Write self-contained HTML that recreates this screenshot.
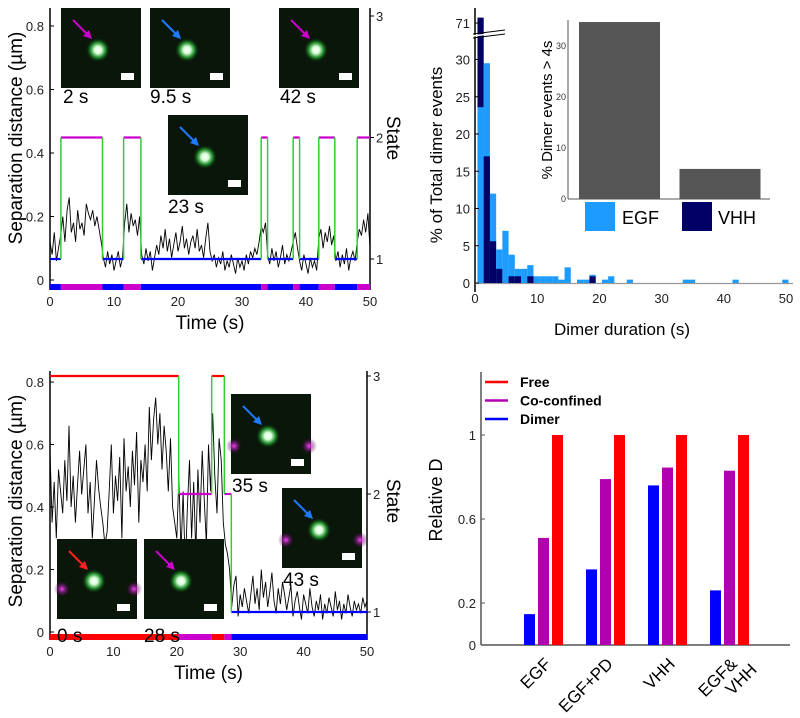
<!DOCTYPE html>
<html><head><meta charset="utf-8">
<style>
html,body{margin:0;padding:0;background:#fff;}
svg{display:block;font-family:"Liberation Sans",sans-serif;}
</style></head>
<body>
<svg id="fig" width="800" height="718" viewBox="0 0 800 718" xmlns="http://www.w3.org/2000/svg">
<defs>
<radialGradient id="spotG" cx="50%" cy="50%" r="50%">
<stop offset="0" stop-color="#ffffff"/><stop offset="0.3" stop-color="#d8ffd8"/><stop offset="0.65" stop-color="#1f9a2a" stop-opacity="0.85"/><stop offset="1" stop-color="#0b2a0d" stop-opacity="0"/>
</radialGradient>
<radialGradient id="magG" cx="50%" cy="50%" r="50%">
<stop offset="0" stop-color="#ff40ff"/><stop offset="1" stop-color="#400040" stop-opacity="0"/>
</radialGradient>
</defs>
<g id="tl"></g>
<g id="bl"></g>
<g id="tr"></g>
<g id="br"></g>
</svg>
<script>
// ---------- DATA ----------
const topTrace = [.12,.08,.15,.06,.10,
.14,.20,.12,.22,.26,.15,.18,.12,.22,.16,.18,.14,.24,.21,.19,.22,.17,.20,.16,.12,
.07,.04,.09,.05,.08,.03,.06,.09,.04,.07,
.18,.24,.15,.21,.17,.19,.14,.20,
.08,.05,.10,.06,.09,.03,.07,.11,.08,.14,.10,.16,.09,.13,.07,.11,.15,.09,.12,.17,.10,.13,.08,.12,.14,.10,.16,.09,.11,.07,.13,.18,.09,.06,.08,.04,.07,.05,.09,.03,.06,.04,.08,.05,.02,.07,.04,.06,.03,.08,.05,.09,.07,.10,.08,.12,
.17,.15,.18,
.08,.05,.10,.06,.09,.04,.07,.11,.05,.08,.06,.09,
.12,.15,.10,
.06,.03,.08,.05,.02,.07,.04,.06,.03,
.13,.16,.10,.15,.12,.17,.11,.14,
.06,.09,.04,.08,.05,.10,.03,.07,.09,.06,
.12,.16,.14,.19,.15,.21,.10];
const topStateStarts = [0,1.7,8.2,11.5,14.2,33,34,38,39,42,44.5,48];
const topStates      = [1,2,1,2,1,2,1,2,1,2,1,2];
const bottomTrace = [.58,.35,.48,.30,.52,.45,.38,.55,.42,.66,.40,.50,.35,.47,.58,.44,.52,.60,.38,.48,.30,.42,.55,.46,.40,.35,.28,.32,.45,.60,.38,.50,.42,.56,.30,.62,.45,.53,.40,.58,.47,.64,.35,.55,.48,.60,.45,.72,.55,.68,.75,.60,.70,.52,.66,.58,.45,.62,.40,.35,
.30,.50,.25,.45,.20,.40,.55,.30,.48,.25,.52,.35,.58,.42,.28,.60,.45,.70,.50,.38,.62,.55,.35,.28,.25,.20,
.08,.15,.18,.05,.12,.08,.14,.10,.06,.12,.18,.09,.14,.07,.20,.11,.16,.08,.13,.19,.10,.06,.14,.09,.16,.12,.07,.11,.15,.05,.10,.13,.08,.04,.12,.09,.06,.14,.08,.05,.10,.07,.12,.04,.09,.06,.11,.08,.05,.13,.07,.10,.04,.09,.06,.12,.08,.05,.10,.07,.09,.06,.11,.08,.10];
const bottomStateStarts = [0,20.3,25.5,27.5,28.6];
const bottomStates      = [3,2,3,2,1];
const traceXTicks = [0,10,20,30,40,50];
const traceYTicks = [0,0.2,0.4,0.6,0.8];
const stateTicks = [1,2,3];

const histEGF = [23.6,29.5,12,4.5,7,3.8,1.9,1.9,2.4,0.9,0.9,0.9,0.9,0.45,2.1,0,0.45,0.45,1.1,0,0.45,0.9,0,0,0.45,0,0,0,0,0,0,0,0,0.45,0.45,0,0,0,0,0,0,0.45,0,0,0,0,0,0,0,0.45];
const histVHH = [77,17,5.6,1.9,0,0.9,0.9,0,0.9,0,0,0,0,0,0,0,0,0,0.9,0];
const histYTicks = [0,5,10,15,20,25,30,71];
const histXTicks = [0,10,20,30,40,50];
const insetCats = ["EGF","VHH"];
const insetVals = [34.7,5.9];
const insetTicks = [0,10,20,30];

const dCats = ["EGF","EGF+PD","VHH","EGF&\nVHH"];
const dDimer = [0.147,0.36,0.76,0.26];
const dCoconf = [0.51,0.79,0.845,0.83];
const dFree = [1,1,1,1];
const dTicks = [0,0.2,0.6,1];

// ---------- HELPERS ----------
const NS="http://www.w3.org/2000/svg";
function mk(parent,tag,attrs,text){const e=document.createElementNS(NS,tag);for(const k in attrs)e.setAttribute(k,attrs[k]);if(text!==undefined)e.textContent=text;parent.appendChild(e);return e;}
const colState={1:"#0000ff",2:"#cc00cc",3:"#ff0000"};

function tracePanel(g,cfg,trace,starts,states){
  const xs=t=>cfg.x0+t*cfg.xk, ys=v=>cfg.y0-v*cfg.yk, ss=s=>cfg.s1-(s-1)*cfg.sk;
  let e;
  e=mk(g,"line",{x1:cfg.x0,y1:cfg.top,x2:cfg.x0,y2:cfg.barY+6,stroke:"#000","stroke-width":1.5});
  
  e=mk(g,"line",{x1:xs(50),y1:cfg.top,x2:xs(50),y2:cfg.barY+6,stroke:"#000","stroke-width":1.5});
  
  traceYTicks.forEach(v=>{
    mk(g,"line",{x1:cfg.x0,y1:ys(v),x2:cfg.x0+4,y2:ys(v),stroke:"#000"});
    e=mk(g,"text",{x:cfg.x0-6,y:ys(v)+5,"text-anchor":"end","font-size":13,fill:"#222"},v===0?"0":v.toFixed(1));
    
  });
  stateTicks.forEach(s=>{
    mk(g,"line",{x1:xs(50),y1:ss(s),x2:xs(50)+4,y2:ss(s),stroke:"#000"});
    e=mk(g,"text",{x:xs(50)+6,y:ss(s)+5,"font-size":13,fill:"#222"},String(s));
    
  });
  traceXTicks.forEach(t=>{
    e=mk(g,"text",{x:xs(t),y:cfg.barY+22,"text-anchor":"middle","font-size":13,fill:"#222"},String(t));
    
  });
  const step=50/(trace.length-1);
  e=mk(g,"polyline",{points:trace.map((v,i)=>xs(i*step).toFixed(1)+","+ys(v).toFixed(1)).join(" "),fill:"none",stroke:"#000","stroke-width":0.9});
  
  for(let i=0;i<starts.length;i++){
    const a=starts[i], b=i+1<starts.length?starts[i+1]:50, s=states[i];
    e=mk(g,"line",{x1:xs(a),y1:ss(s),x2:xs(b),y2:ss(s),stroke:colState[s],"stroke-width":2.2});
    
    if(i>0){e=mk(g,"line",{x1:xs(a),y1:ss(states[i-1]),x2:xs(a),y2:ss(s),stroke:"#33cc33","stroke-width":1.5});
      }
    e=mk(g,"rect",{x:xs(a),y:cfg.barY,width:xs(b)-xs(a),height:6,fill:colState[s]});
    
  }
  e=mk(g,"text",{x:xs(25),y:cfg.barY+45,"text-anchor":"middle","font-size":19},"Time (s)");
  
  const my=cfg.top+130;
  e=mk(g,"text",{x:0,y:0,transform:`translate(22,${my}) rotate(-90)`,"text-anchor":"middle","font-size":19},"Separation distance (µm)");
  
  e=mk(g,"text",{x:0,y:0,transform:`translate(387,${my}) rotate(90)`,"text-anchor":"middle","font-size":19},"State");
  
}

function micro(g,x,y,label,lx,ly,arrowCol,mags){
  const sg=mk(g,"g",{});
  
  
  mk(sg,"rect",{x:x,y:y,width:80,height:80,fill:"#050805"});
  mk(sg,"rect",{x:x,y:y,width:80,height:80,fill:"#143014",opacity:0.35});
  (mags||[]).forEach(m=>mk(sg,"circle",{cx:x+m[0],cy:y+m[1],r:8,fill:"url(#magG)"}));
  mk(sg,"circle",{cx:x+37,cy:y+42,r:12,fill:"url(#spotG)"});
  mk(sg,"line",{x1:x+12,y1:y+12,x2:x+27,y2:y+27,stroke:arrowCol,"stroke-width":2});
  mk(sg,"polygon",{points:`${x+31},${y+31} ${x+22},${y+28} ${x+28},${y+22}`,fill:arrowCol});
  mk(sg,"rect",{x:x+60,y:y+65,width:13,height:7,fill:"#fff"});
  const t=mk(g,"text",{x:lx,y:ly,"font-size":19},label);
  
  
}

// ---------- TOP-LEFT ----------
const tl=document.getElementById("tl");
tracePanel(tl,{x0:50,xk:6.4,y0:280,yk:317.5,s1:259,sk:121.5,top:8,barY:284},topTrace,topStateStarts,topStates);
micro(tl,61,8,"2 s",63,103,"#cc00cc");
micro(tl,150,8,"9.5 s",150,103,"#1e7bff");
micro(tl,279,8,"42 s",280,103,"#cc00cc");
micro(tl,168,115,"23 s",168,213,"#1e7bff");

// ---------- BOTTOM-LEFT ----------
const bl=document.getElementById("bl");
tracePanel(bl,{x0:50,xk:6.34,y0:632,yk:312.5,s1:612,sk:118,top:371,barY:634},bottomTrace,bottomStateStarts,bottomStates);
micro(bl,57,539,"0 s",57,642,"#ff2020",[[5,50],[77,50]]);
micro(bl,144,539,"28 s",144,642,"#cc00cc");
micro(bl,231,394,"35 s",232,492,"#1e7bff",[[3,52],[78,52]]);
micro(bl,282,488,"43 s",283,586,"#1e7bff",[[4,52],[78,52]]);

// ---------- TOP-RIGHT HISTOGRAM ----------
const tr=document.getElementById("tr");
(function(){
  const x0=475,xk=6.22,off=0.4;
  const xs=t=>x0+t*xk;
  const ys=v=>v<=30?283-v*7.45:60-(v-30)*0.902;
  let e;
  e=mk(tr,"line",{x1:x0,y1:8,x2:x0,y2:292,stroke:"#000","stroke-width":1.5});
  
  e=mk(tr,"line",{x1:x0,y1:283.5,x2:793,y2:283.5,stroke:"#999","stroke-width":1.2});
  
  histEGF.forEach((v,i)=>{
    const w=histVHH[i]||0;
    const draw=(val,col,nm)=>{if(val<=0)return;const r=mk(tr,"rect",{x:xs(off+i),y:ys(val),width:xk,height:283-ys(val),fill:col});
      };
    if(w>v){draw(w,"#000066","bar-vhh");draw(v,"#1e9bff","bar-egf");}
    else{draw(v,"#1e9bff","bar-egf");draw(w,"#000066","bar-vhh");}
  });
  histYTicks.forEach(v=>{
    mk(tr,"line",{x1:x0,y1:ys(v),x2:x0+4,y2:ys(v),stroke:"#000"});
    e=mk(tr,"text",{x:x0-5,y:ys(v)+5,"text-anchor":"end","font-size":13,fill:"#222"},String(v));
    
  });
  e=mk(tr,"path",{d:"M473 34 L505 30 M473 38 L505 34",stroke:"#000","stroke-width":1,fill:"none"});
  
  mk(tr,"path",{d:"M474 35 L504 31.5 L504 33 L474 36.5 Z",fill:"#fff"});
  histXTicks.forEach(t=>{
    e=mk(tr,"text",{x:xs(t),y:303,"text-anchor":"middle","font-size":13,fill:"#222"},String(t));
    
  });
  e=mk(tr,"text",{x:622,y:335,"text-anchor":"middle","font-size":17},"Dimer duration (s)");
  
  e=mk(tr,"text",{x:0,y:0,transform:"translate(442,155) rotate(-90)","text-anchor":"middle","font-size":17},"% of Total dimer events");
  
  const ib=199, ik=5.1;
  e=mk(tr,"line",{x1:568,y1:20,x2:568,y2:ib,stroke:"#555","stroke-width":1});
  
  e=mk(tr,"line",{x1:568,y1:ib,x2:770,y2:ib,stroke:"#555","stroke-width":1});
  
  insetTicks.forEach(v=>{
    e=mk(tr,"text",{x:566,y:ib-v*ik+3,"text-anchor":"end","font-size":9,fill:"#333"},String(v));
    
  });
  insetVals.forEach((v,i)=>{
    const r=mk(tr,"rect",{x:579+i*100.5,y:ib-v*ik,width:81,height:v*ik,fill:"#555"});
    
    
  });
  e=mk(tr,"text",{x:0,y:0,transform:"translate(552,110) rotate(-90)","text-anchor":"middle","font-size":15},"% Dimer events > 4s");
  
  e=mk(tr,"rect",{x:585,y:202,width:30,height:29,fill:"#1e9bff"});
  
  e=mk(tr,"text",{x:622,y:224,"font-size":18},"EGF");
  
  e=mk(tr,"rect",{x:682,y:202,width:30,height:29,fill:"#000066"});
  
  e=mk(tr,"text",{x:718,y:224,"font-size":18},"VHH");
  
})();

// ---------- BOTTOM-RIGHT BAR CHART ----------
const br=document.getElementById("br");
(function(){
  const x0=481,y0=645,yk=210,gx=524,gs=62,bw=11;
  const ys=v=>y0-v*yk;
  let e;
  e=mk(br,"line",{x1:x0,y1:372,x2:x0,y2:y0,stroke:"#555","stroke-width":1.5});
  
  e=mk(br,"line",{x1:x0,y1:y0,x2:790,y2:y0,stroke:"#555","stroke-width":1.5});
  
  dTicks.forEach(v=>{
    mk(br,"line",{x1:x0,y1:ys(v),x2:x0+4,y2:ys(v),stroke:"#555"});
    e=mk(br,"text",{x:x0-5,y:ys(v)+5,"text-anchor":"end","font-size":13,fill:"#222"},String(v));
    
  });
  const series=[[dDimer,"#0000ff","dimer"],[dCoconf,"#b000b0","co-confined"],[dFree,"#ff0000","free"]];
  dCats.forEach((c,i)=>{
    series.forEach((s,j)=>{
      const v=s[0][i];
      const r=mk(br,"rect",{x:gx+i*gs+j*14,y:ys(v),width:bw,height:v*yk,fill:s[1]});
      
      
    });
    const cx=gx+i*gs+20, lines=c.split("\n");
    const t=mk(br,"text",{x:0,y:0,transform:`translate(${cx+8},${665}) rotate(-45)`,"text-anchor":"end","font-size":17});
    
    
    lines.forEach((l,k)=>mk(t,"tspan",{x:0,dy:k===0?0:18,dx:k===0?0:10},l));
  });
  const leg=[["Free","#ff0000"],["Co-confined","#b000b0"],["Dimer","#0000ff"]];
  leg.forEach((l,i)=>{
    e=mk(br,"line",{x1:485,y1:382+i*18.5,x2:508,y2:382+i*18.5,stroke:l[1],"stroke-width":2.5});
    
    e=mk(br,"text",{x:520,y:387+i*18.5,"font-size":14,"font-weight":"bold"},l[0]);
    
  });
  e=mk(br,"text",{x:0,y:0,transform:"translate(442,500) rotate(-90)","text-anchor":"middle","font-size":18},"Relative D");
  
})();
</script>
</body></html>
